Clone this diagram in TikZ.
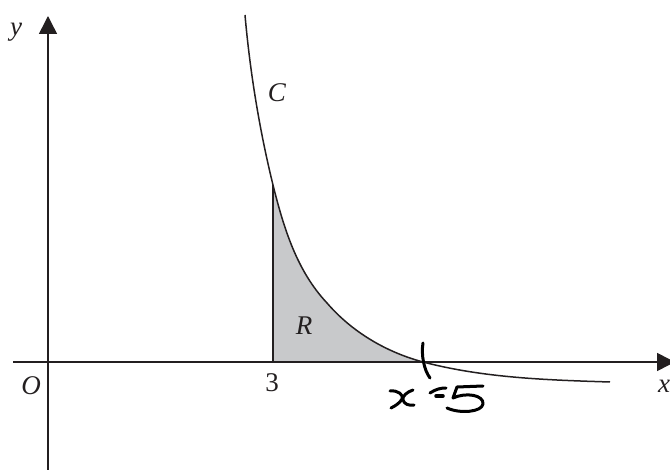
\documentclass[tikz,border=0pt]{standalone}
\usepackage{fontspec}
\setmainfont{Liberation Serif}
\usetikzlibrary{arrows.meta}
\definecolor{ink}{HTML}{231F20}
\definecolor{regiongray}{HTML}{C8C9CB}
\begin{document}
\begin{tikzpicture}[x=1pt,y=-1pt,
  axis/.style={draw=ink,line width=1.5pt,-{Triangle[width=18pt,length=18pt]}},
  curveline/.style={draw=ink,line width=1.5pt},
  lbl/.style={font=\fontsize{27}{32}\selectfont\itshape,text=ink,anchor=base,inner sep=0pt},
  num/.style={font=\fontsize{27}{32}\selectfont,text=ink,anchor=base,inner sep=0pt},
  hand/.style={draw=black,line width=3pt,line cap=round,line join=round}]
\useasboundingbox (0,0) rectangle (670,470);
\coordinate (ybot) at (48,470);
\coordinate (ytop) at (48,16);
\coordinate (xleft) at (13,362);
\coordinate (xright) at (675,362);
\coordinate (a3) at (273,362);
\coordinate (c3) at (273,185);
\coordinate (tickA) at (423,343);
\coordinate (tickB) at (430,378);
\def\Cpath{(245,15) .. controls (250,72) and (259.5,130) .. (273,185)
  .. controls (284,229) and (297,271) .. (327,303)
  .. controls (352,332) and (386,352) .. (423,362)
  .. controls (484,378) and (547,380) .. (610,382)}
% shaded region R
\begin{scope}
  \clip (a3) rectangle (430,0);
  \fill[regiongray] \Cpath -- (620,470) -- (240,470) -- cycle;
\end{scope}
\draw[draw=ink,line width=1.3pt] (a3) -- (c3);
% axes
\draw[axis] (ybot) -- (ytop);
\draw[axis] (xleft) -- (xright);
% curve C
\draw[curveline] \Cpath;
% labels
\node[lbl] (ylab) at (16,36) {y};
\node[lbl] (xlab) at (664,393) {x};
\node[lbl] (olab) at (31,395) {O};
\node[num] (three) at (272,392) {3};
\node[lbl] (clab) at (277,102) {C};
\node[lbl] (rlab) at (304,335) {R};
% handwriting x=5
\draw[hand] (tickA) .. controls (421,355) and (424,370) .. (tickB);
\draw[hand] (390,391) .. controls (398,390) and (404,395) .. (402,399) .. controls (400,403) and (395,406) .. (391,408);
\draw[hand] (413,390) .. controls (407,392) and (402,396) .. (403,400) .. controls (404,404) and (409,406) .. (414,405);
\draw[hand] (430,393) .. controls (436,389) and (441,388) .. (446,388);
\draw[hand,line width=3.5pt] (436,396) -- (443,396);
\draw[hand] (483,386) -- (457,387) -- (453,398) .. controls (466,392) and (484,395) .. (483,404) .. controls (482,412) and (460,414) .. (447,408);
\end{tikzpicture}
\end{document}
